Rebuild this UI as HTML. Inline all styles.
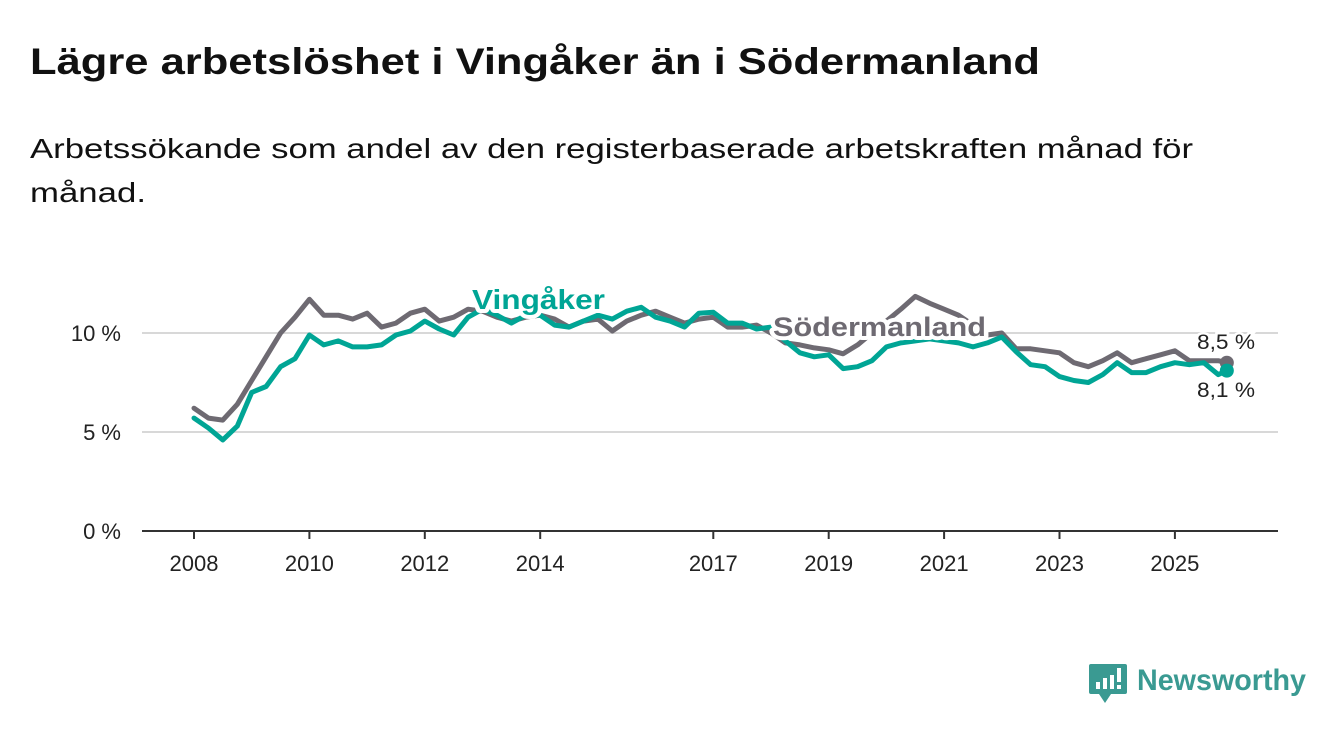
<!DOCTYPE html>
<html><head><meta charset="utf-8">
<style>
html,body{margin:0;padding:0;background:#fff;}
svg{display:block;font-family:"Liberation Sans","DejaVu Sans",sans-serif;}
</style></head>
<body>
<svg id="chart" width="1340" height="734" viewBox="0 0 1340 734">
  <text x="30" y="74" font-size="37" font-weight="bold" fill="#111" textLength="1010" lengthAdjust="spacingAndGlyphs">Lägre arbetslöshet i Vingåker än i Södermanland</text>
  <text x="30" y="158" font-size="28" fill="#111" textLength="1163" lengthAdjust="spacingAndGlyphs">Arbetssökande som andel av den registerbaserade arbetskraften månad för</text>
  <text x="30" y="202" font-size="28" fill="#111" textLength="116" lengthAdjust="spacingAndGlyphs">månad.</text>
  <g id="grid"></g>
  <g id="yticks"></g>
  <g id="xticks"></g>
  <g id="lines"></g>
  <g id="labels"></g>
  <g>
    <path d="M1091 664 h34 a2 2 0 0 1 2 2 v26 a2 2 0 0 1 -2 2 h-14 l-6 9 l-6 -9 h-8 a2 2 0 0 1 -2 -2 v-26 a2 2 0 0 1 2 -2z" fill="#3a9a92"/>
    <rect x="1096" y="682" width="4" height="7" fill="#fff"/>
    <rect x="1103" y="678" width="4" height="11" fill="#fff"/>
    <rect x="1110" y="675" width="4" height="14" fill="#fff"/>
    <rect x="1117" y="668" width="4" height="14" fill="#fff"/>
    <rect x="1117" y="685" width="4" height="4" fill="#fff"/>
    <text x="1137" y="690" font-size="30" font-weight="bold" fill="#3a9a92" textLength="169" lengthAdjust="spacingAndGlyphs">Newsworthy</text>
  </g>
</svg>
<script>
const quarters = [2008,2008.25,2008.5,2008.75,2009,2009.25,2009.5,2009.75,2010,2010.25,2010.5,2010.75,2011,2011.25,2011.5,2011.75,2012,2012.25,2012.5,2012.75,2013,2013.25,2013.5,2013.75,2014,2014.25,2014.5,2014.75,2015,2015.25,2015.5,2015.75,2016,2016.25,2016.5,2016.75,2017,2017.25,2017.5,2017.75,2018,2018.25,2018.5,2018.75,2019,2019.25,2019.5,2019.75,2020,2020.25,2020.5,2020.75,2021,2021.25,2021.5,2021.75,2022,2022.25,2022.5,2022.75,2023,2023.25,2023.5,2023.75,2024,2024.25,2024.5,2024.75,2025,2025.25,2025.5,2025.75,2025.9];
const sodermanland = [6.2,5.7,5.6,6.4,7.6,8.8,10.0,10.8,11.7,10.9,10.9,10.7,11.0,10.3,10.5,11.0,11.2,10.6,10.8,11.2,11.1,10.8,10.6,10.8,10.9,10.7,10.3,10.6,10.7,10.1,10.6,10.9,11.1,10.8,10.5,10.7,10.8,10.3,10.3,10.4,10.0,9.5,9.4,9.25,9.15,8.95,9.4,10.0,10.6,11.2,11.85,11.5,11.2,10.9,10.4,9.9,10.0,9.2,9.2,9.1,9.0,8.5,8.3,8.6,9.0,8.5,8.7,8.9,9.1,8.6,8.6,8.6,8.5];
const vingaker = [5.7,5.2,4.6,5.3,7.0,7.3,8.3,8.7,9.9,9.4,9.6,9.3,9.3,9.4,9.9,10.1,10.6,10.2,9.9,10.8,11.2,10.9,10.5,10.9,10.9,10.4,10.3,10.6,10.9,10.7,11.1,11.3,10.8,10.6,10.3,11.0,11.05,10.5,10.5,10.2,10.3,9.6,9.0,8.8,8.9,8.2,8.3,8.6,9.3,9.5,9.6,9.7,9.6,9.5,9.3,9.5,9.8,9.05,8.4,8.3,7.8,7.6,7.5,7.9,8.5,8.0,8.0,8.3,8.5,8.4,8.5,7.9,8.1];
const yTicks = [0,5,10];
const yTickLabels = ["0 %","5 %","10 %"];
const xTicks = [2008,2010,2012,2014,2017,2019,2021,2023,2025];
const endLabels = ["8,5 %","8,1 %"];

const NS="http://www.w3.org/2000/svg";
const X = t => 194 + (t-2008)*57.7;
const Y = v => 531 - v*19.8;
function mk(tag, attrs, parent){const e=document.createElementNS(NS,tag);for(const k in attrs)e.setAttribute(k,attrs[k]);parent.appendChild(e);return e;}
const grid=document.getElementById('grid'), yt=document.getElementById('yticks'), xt=document.getElementById('xticks'), lines=document.getElementById('lines'), labels=document.getElementById('labels');

yTicks.forEach((v,i)=>{
  const l=mk('line',{x1:142,x2:1278,y1:Y(v),y2:Y(v),stroke:v===0?'#333':'#d8d8d8','stroke-width':2},grid);
  
  
  const t=mk('text',{x:121,y:Y(v)+8,'text-anchor':'end','font-size':22,fill:'#222'},yt);
  t.textContent=yTickLabels[i];
  
  
});
xTicks.forEach(yr=>{
  const tk=mk('line',{x1:X(yr),x2:X(yr),y1:531,y2:539,stroke:'#333','stroke-width':2},xt);
  
  
  const t=mk('text',{x:X(yr),y:571,'text-anchor':'middle','font-size':22,fill:'#222'},xt);
  t.textContent=String(yr);
  
  
});
function path(vals){return vals.map((v,i)=>(i?'L':'M')+X(quarters[i]).toFixed(1)+' '+Y(v).toFixed(1)).join(' ');}
const gp=mk('path',{d:path(sodermanland),fill:'none',stroke:'#6e6a72','stroke-width':5,'stroke-linejoin':'round','stroke-linecap':'round'},lines);


const tp=mk('path',{d:path(vingaker),fill:'none',stroke:'#00a595','stroke-width':5,'stroke-linejoin':'round','stroke-linecap':'round'},lines);


const n=quarters.length-1;
const gd=mk('circle',{cx:X(quarters[n]),cy:Y(sodermanland[n]),r:7,fill:'#6e6a72'},lines);


const td=mk('circle',{cx:X(quarters[n]),cy:Y(vingaker[n]),r:7,fill:'#00a595'},lines);



const l1=mk('text',{x:472,y:309,'font-size':28,'font-weight':'bold',fill:'#00a595',stroke:'#fff','stroke-width':8,'paint-order':'stroke','stroke-linejoin':'round',textLength:133,lengthAdjust:'spacingAndGlyphs'},labels);
l1.textContent='Vingåker';


const l2=mk('text',{x:773,y:336,'font-size':27,'font-weight':'bold',fill:'#6e6a72',stroke:'#fff','stroke-width':8,'paint-order':'stroke','stroke-linejoin':'round',textLength:213,lengthAdjust:'spacingAndGlyphs'},labels);
l2.textContent='Södermanland';


const e1=mk('text',{x:1197,y:349,'font-size':21,fill:'#222',stroke:'#fff','stroke-width':5,'paint-order':'stroke',textLength:58,lengthAdjust:'spacingAndGlyphs'},labels);
e1.textContent=endLabels[0];


const e2=mk('text',{x:1197,y:397,'font-size':21,fill:'#222',stroke:'#fff','stroke-width':5,'paint-order':'stroke',textLength:58,lengthAdjust:'spacingAndGlyphs'},labels);
e2.textContent=endLabels[1];


</script>
</body></html>
